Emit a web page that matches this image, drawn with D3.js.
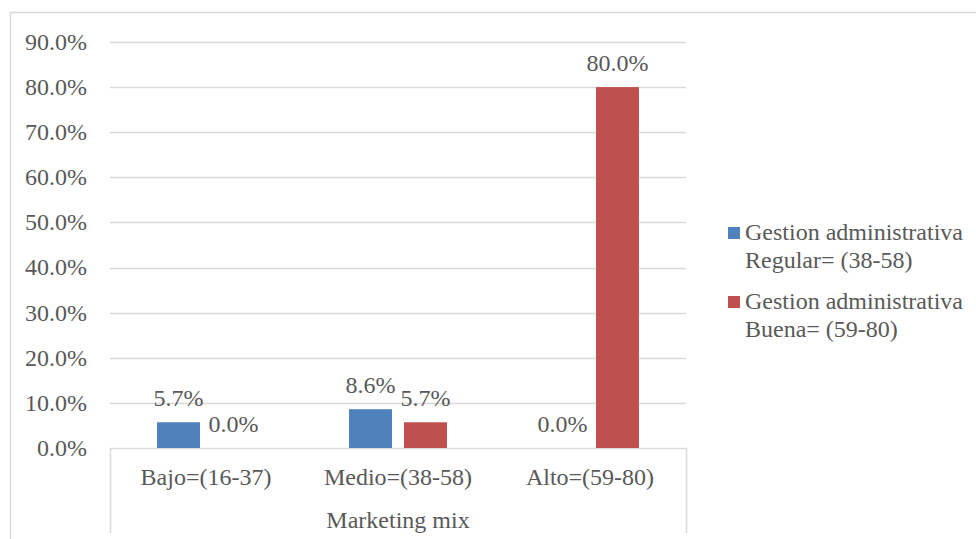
<!DOCTYPE html>
<html>
<head>
<meta charset="utf-8">
<script src="https://cdn.jsdelivr.net/npm/d3@7/dist/d3.min.js"></script>
<style>
  html, body { margin: 0; padding: 0; background: #fff; }
</style>
</head>
<body>
<svg id="chart" width="976" height="539"></svg>
<script>
// Category groups along the x axis
const categories = ["Bajo=(16-37)", "Medio=(38-58)", "Alto=(59-80)"];
// Series names (legend, two lines each)
const seriesNames = [
  ["Gestion administrativa", "Regular= (38-58)"],
  ["Gestion administrativa", "Buena= (59-80)"]
];
// Percentages per series, one per category
const regular = [5.7, 8.6, 0.0];
const buena = [0.0, 5.7, 80.0];
const yTicks = [0, 10, 20, 30, 40, 50, 60, 70, 80, 90];
const axisTitle = "Marketing mix";
const colors = ["#4f81bd", "#c0504d"];

const svg = d3.select("#chart");
const fontSize = 24;
const textColor = "#595959";
const grid = "#d9d9d9";

const plot = { left: 110, right: 686, top: 42, bottom: 448 };

// Outer chart frame (cut off on the right and bottom)
svg.append("path")
  .attr("d", `M10.5,${539} V12.5 H${980}`)
  .attr("fill", "none").attr("stroke", grid).attr("stroke-width", 1.5);

const y = d3.scaleLinear().domain([0, 90]).range([plot.bottom, plot.top]);
const x0 = d3.scaleBand().domain(categories).range([plot.left, plot.right])
  .paddingInner(0.49).paddingOuter(0.245);
const x1 = d3.scaleBand().domain([0, 1]).range([0, x0.bandwidth()]).paddingInner(0.218);
const xCat = d3.scaleBand().domain(categories).range([plot.left, plot.right]);

function label(sel) {
  return sel.attr("fill", textColor)
    .attr("font-family", "'Liberation Serif', 'Times New Roman', Times, serif")
    .attr("font-size", fontSize);
}

// Gridlines
svg.append("g").selectAll("line").data(yTicks.filter(d => d > 0)).join("line")
  .attr("x1", plot.left).attr("x2", plot.right)
  .attr("y1", d => Math.round(y(d)) + 0.5).attr("y2", d => Math.round(y(d)) + 0.5)
  .attr("stroke", grid).attr("stroke-width", 1.3);

// Y tick labels
svg.append("g").selectAll("text").data(yTicks).join("text")
  .call(label)
  .attr("x", 87).attr("y", d => y(d))
  .attr("dy", "0.33em")
  .attr("text-anchor", "end")
  .text(d => d.toFixed(1) + "%");

// Category axis box
const axisBottom = 533;
svg.append("path")
  .attr("d", `M${plot.left + 0.5},${axisBottom} V${plot.bottom + 0.5} H${plot.right + 0.5} V${axisBottom}`)
  .attr("fill", "none").attr("stroke", grid).attr("stroke-width", 1.5);

// Bars
const rows = categories.map((c, i) => ({ cat: c, vals: [regular[i], buena[i]] }));
const groups = svg.append("g").selectAll("g").data(rows).join("g")
  .attr("transform", d => `translate(${x0(d.cat)},0)`);

groups.selectAll("rect").data(d => d.vals.map((v, s) => ({ v, s }))).join("rect")
  .attr("x", d => x1(d.s))
  .attr("width", x1.bandwidth())
  .attr("y", d => y(d.v))
  .attr("height", d => y(0) - y(d.v))
  .attr("fill", d => colors[d.s]);

// Value labels
groups.selectAll("text").data(d => d.vals.map((v, s) => ({ v, s }))).join("text")
  .call(label)
  .attr("x", d => x1(d.s) + x1.bandwidth() / 2)
  .attr("y", d => y(d.v) - 16)
  .attr("text-anchor", "middle")
  .text(d => d.v.toFixed(1) + "%");

// Category labels
svg.append("g").selectAll("text").data(categories).join("text")
  .call(label)
  .attr("x", d => xCat(d) + xCat.bandwidth() / 2)
  .attr("y", 485)
  .attr("text-anchor", "middle")
  .text(d => d);

svg.append("text")
  .call(label)
  .attr("x", (plot.left + plot.right) / 2)
  .attr("y", 528)
  .attr("text-anchor", "middle")
  .text(axisTitle);

// Legend
const legend = svg.append("g").selectAll("g").data(seriesNames).join("g")
  .attr("transform", (d, i) => `translate(728,${227 + i * 69})`);
legend.append("rect").attr("width", 12).attr("height", 12)
  .attr("fill", (d, i) => colors[i]);
legend.append("text")
  .call(label)
  .attr("x", 17).attr("y", 13)
  .selectAll("tspan").data(d => d).join("tspan")
  .attr("x", 17)
  .attr("dy", (d, i) => i === 0 ? 0 : 28)
  .text(d => d);
</script>
</body>
</html>
